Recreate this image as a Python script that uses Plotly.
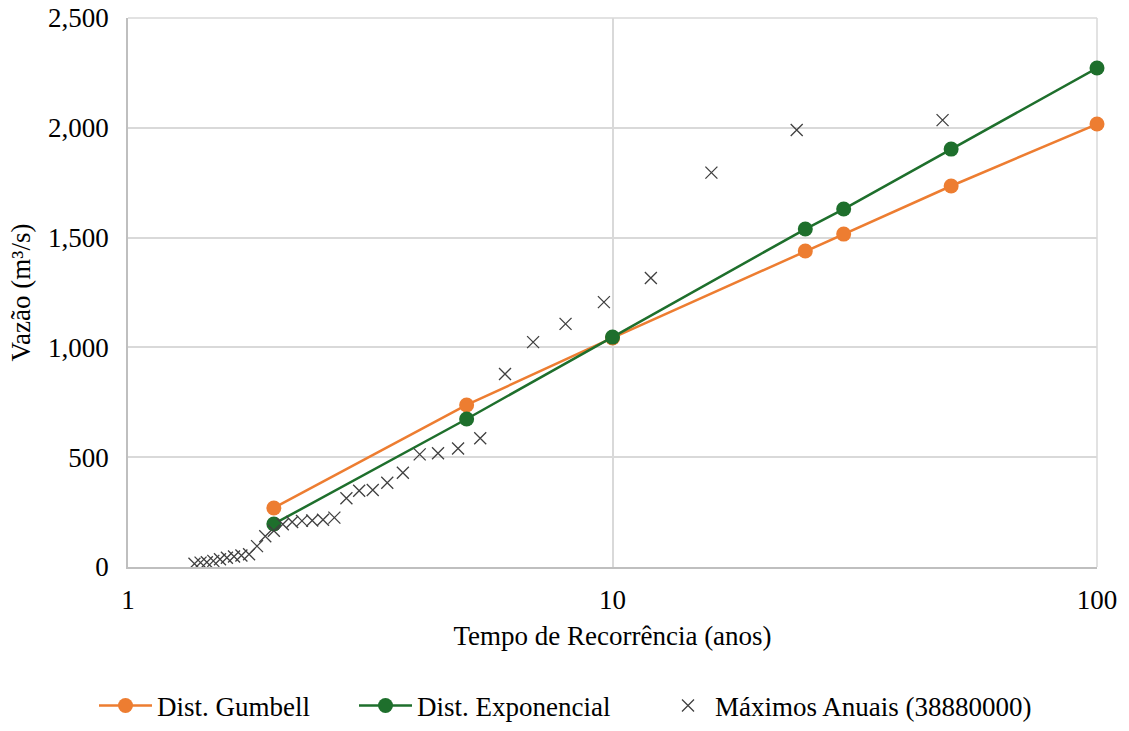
import plotly.graph_objects as go

# Return periods (years) for fitted distributions
T_dist = [2, 5, 10, 25, 30, 50, 100]
gumbel = [269, 738, 1043, 1439, 1516, 1735, 2017]
exponencial = [196, 674, 1047, 1539, 1630, 1903, 2272]

# Annual maxima: rank m, return period T = 48/m
ranks = list(range(1, 36))
maximos = [2035, 1990, 1796, 1316, 1206, 1107, 1024, 879, 586, 540,
           518, 513, 429, 384, 351, 347, 313, 225, 215, 212,
           210, 205, 195, 165, 140, 95, 58, 52, 48, 42,
           35, 28, 22, 20, 15]
T_max = [48 / m for m in ranks]

x_ticks = [1, 10, 100]
y_ticks = [0, 500, 1000, 1500, 2000, 2500]

FONT = "Liberation Serif, Times New Roman, serif"
FS = 27
ORANGE = "#ED7D31"
GREEN = "#1E6F2C"
GRID = "#D9D9D9"

W, H = 1129, 731
L, R, T, B = 128, 32, 18, 164
PW = W - L - R
PH = H - T - B


def px(xpage):
    return (xpage - L) / PW


def py(ypage):
    return (H - B - ypage) / PH


fig = go.Figure()
fig.add_trace(go.Scatter(
    x=T_dist, y=gumbel, mode="lines+markers", name="Dist. Gumbell",
    line=dict(color=ORANGE, width=2.5),
    marker=dict(color=ORANGE, size=15, symbol="circle"), legend="legend",
    cliponaxis=False))
fig.add_trace(go.Scatter(
    x=T_dist, y=exponencial, mode="lines+markers", name="Dist. Exponencial",
    line=dict(color=GREEN, width=2.5),
    marker=dict(color=GREEN, size=15, symbol="circle"), legend="legend2",
    cliponaxis=False))
fig.add_trace(go.Scatter(
    x=T_max, y=maximos, mode="markers", name="Máximos Anuais (38880000)",
    marker=dict(symbol="x-thin-open", size=12, color="#404040",
                line=dict(color="#404040", width=1.3)), legend="legend3"))

# Edge grid lines (top at 2,500 and right at 100) that plotly omits at range ends
fig.add_shape(type="line", xref="x domain", yref="y domain", x0=0, x1=1, y0=1, y1=1,
              line=dict(color=GRID, width=1.5), layer="below")
fig.add_shape(type="line", xref="x domain", yref="y domain", x0=1, x1=1, y0=0, y1=1,
              line=dict(color=GRID, width=1.5), layer="below")

leg_common = dict(orientation="h", yanchor="middle", xanchor="left",
                  font=dict(family=FONT, size=FS, color="#000000"),
                  bgcolor="rgba(0,0,0,0)")

fig.update_layout(
    width=W, height=H,
    margin=dict(l=L, r=R, t=T, b=B, autoexpand=False),
    paper_bgcolor="white", plot_bgcolor="white",
    font=dict(family=FONT, size=FS, color="#000000"),
    showlegend=True,
    legend=dict(x=px(94), y=py(706), itemwidth=53, **leg_common),
    legend2=dict(x=px(354), y=py(706), itemwidth=53, **leg_common),
    legend3=dict(x=px(661), y=py(706), itemwidth=44, **leg_common),
    xaxis=dict(type="log", range=[0, 2], tickvals=x_ticks,
               ticktext=[str(v) for v in x_ticks],
               showgrid=True, gridcolor=GRID, gridwidth=1.5,
               showline=True, linecolor="#BFBFBF", linewidth=1.5,
               ticks="", zeroline=False, automargin=False,
               ticklabelstandoff=8, ticklabeloverflow="allow",
               title=dict(text="Tempo de Recorrência (anos)", standoff=12,
                          font=dict(family=FONT, size=FS)),
               tickfont=dict(family=FONT, size=FS)),
    yaxis=dict(range=[0, 2500], tickvals=y_ticks, tickformat=",",
               showgrid=True, gridcolor=GRID, gridwidth=1.5,
               showline=True, linecolor="#BFBFBF", linewidth=1.5,
               ticks="", zeroline=False, ticklabelstandoff=12,
               automargin=False, ticklabeloverflow="allow",
               title=dict(text="Vazão (m³/s)", standoff=10,
                          font=dict(family=FONT, size=FS)),
               tickfont=dict(family=FONT, size=FS)),
)

fig.write_html("out.html",
               config={"displayModeBar": False},
               post_script="document.body.style.margin='0';"
                           "document.body.style.overflow='hidden';")
